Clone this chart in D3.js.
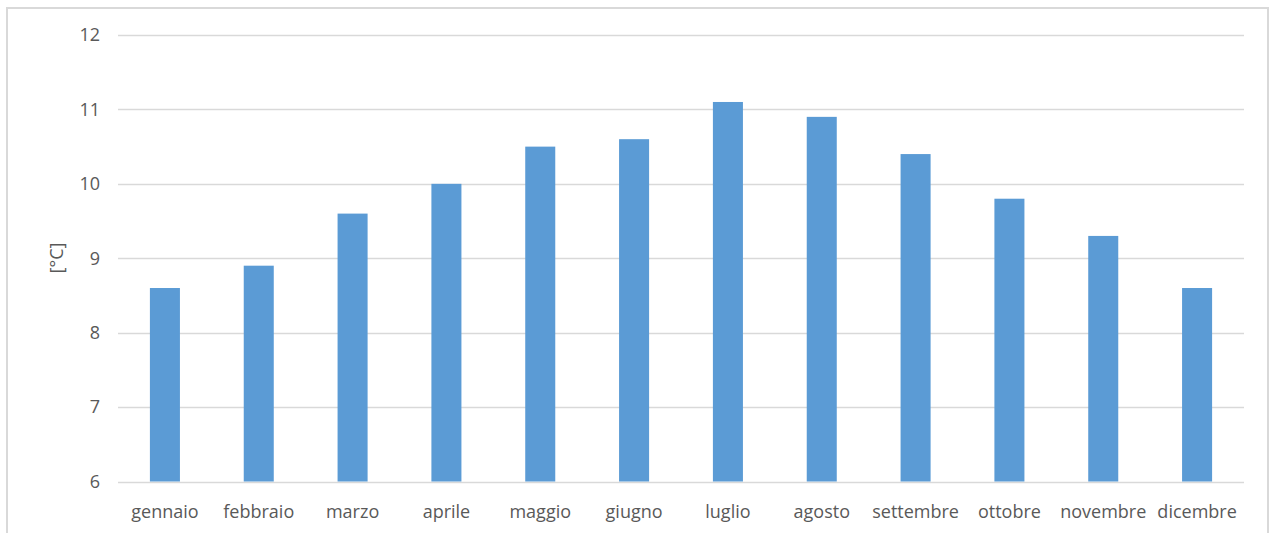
<!DOCTYPE html>
<html>
<head>
<meta charset="utf-8">
<script src="https://cdn.jsdelivr.net/npm/d3@7"></script>
<style>
  body { margin: 0; background: #fff; }
  text { font-family: "Open Sans", Lato, sans-serif; fill: #595959; }
</style>
</head>
<body>
<div id="chart"></div>
<script>
// monthly mean temperature
var months = ["gennaio", "febbraio", "marzo", "aprile", "maggio", "giugno",
  "luglio", "agosto", "settembre", "ottobre", "novembre", "dicembre"];
var temps = [8.6, 8.9, 9.6, 10.0, 10.5, 10.6, 11.1, 10.9, 10.4, 9.8, 9.3, 8.6];
var y_ticks = [6, 7, 8, 9, 10, 11, 12];

var width = 1270;
var height = 533;
var margin = {left: 118, right: 26, top: 35, bottom: 51};

var svg = d3.select("#chart").append("svg")
  .attr("width", width)
  .attr("height", height);

// frame
svg.append("rect")
  .attr("x", 7)
  .attr("y", 8)
  .attr("width", width - 9)
  .attr("height", height)
  .attr("fill", "none")
  .attr("stroke", "#d9d9d9")
  .attr("stroke-width", 2);

var x = d3.scaleBand()
  .domain(months)
  .range([margin.left, width - margin.right])
  .paddingInner(0.68)
  .paddingOuter(0.34);

var y = d3.scaleLinear()
  .domain([6, 12])
  .range([height - margin.bottom - 0.5, margin.top]);

// gridlines
svg.append("g")
  .selectAll("line")
  .data(y_ticks)
  .enter().append("line")
    .attr("x1", margin.left)
    .attr("x2", width - margin.right)
    .attr("y1", function(d) { return Math.round(y(d)) + 0.5; })
    .attr("y2", function(d) { return Math.round(y(d)) + 0.5; })
    .attr("stroke", "#d9d9d9")
    .attr("stroke-width", 1.3);

// bars
svg.append("g")
  .selectAll("rect")
  .data(temps)
  .enter().append("rect")
    .attr("x", function(d, i) { return x(months[i]); })
    .attr("y", function(d) { return y(d); })
    .attr("width", x.bandwidth())
    .attr("height", function(d) { return y(6) - y(d); })
    .attr("fill", "#5b9bd5");

// y tick labels
var yAxis = d3.axisLeft(y).tickValues(y_ticks).tickFormat(d3.format("d")).tickSize(0).tickPadding(0);
var gy = svg.append("g")
  .attr("transform", "translate(100,0)")
  .call(yAxis);
gy.select(".domain").remove();
gy.selectAll("text")
  .attr("font-size", 18)
  .attr("font-family", null)
  .attr("fill", null);

// x labels
var xAxis = d3.axisBottom(x).tickSize(0).tickPadding(0);
var gx = svg.append("g")
  .attr("transform", "translate(0," + (height - margin.bottom + 23) + ")")
  .call(xAxis);
gx.select(".domain").remove();
gx.selectAll("text")
  .attr("font-size", 18)
  .attr("font-family", null)
  .attr("fill", null);

// axis title
svg.append("text")
  .attr("transform", "translate(63,258) rotate(-90)")
  .attr("text-anchor", "middle")
  .attr("font-size", 18)
  .text("[°C]");
</script>
</body>
</html>
